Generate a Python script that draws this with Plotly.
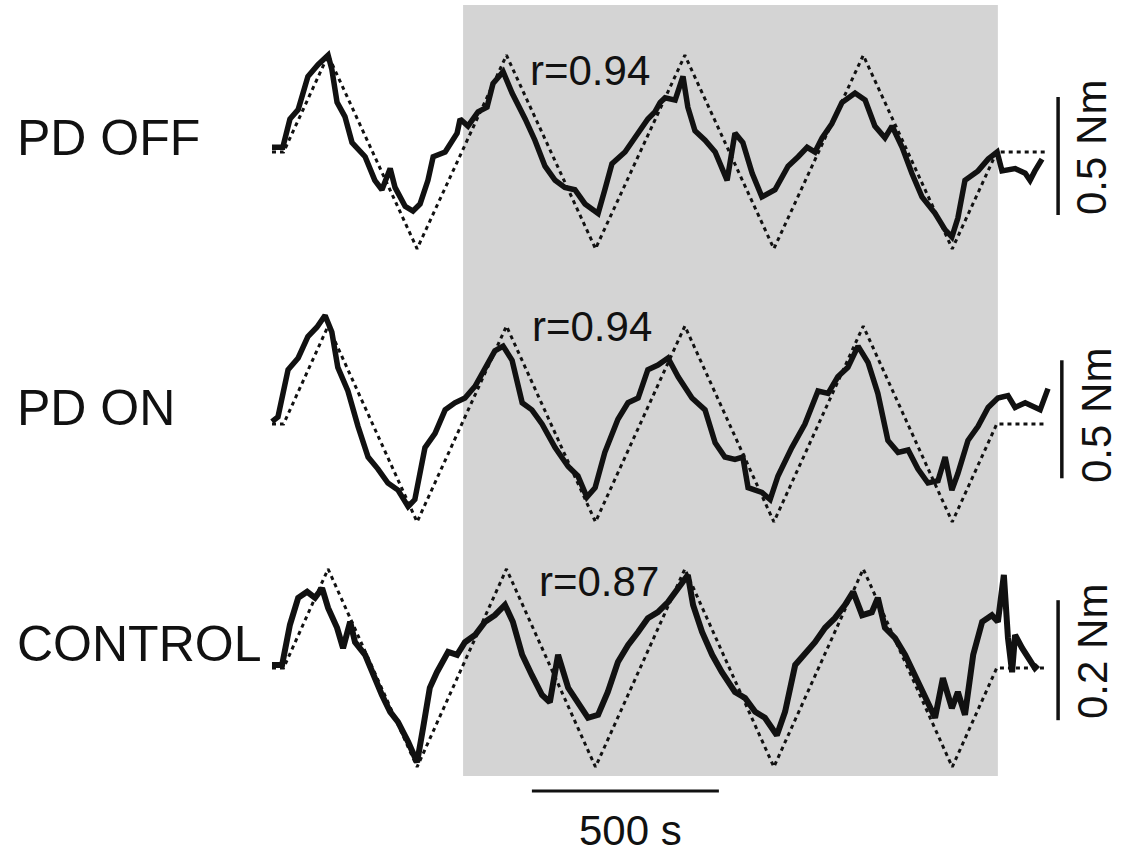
import plotly.graph_objects as go

# ---------------- data (time in s, torque in Nm) ----------------
tgt_t = [0, 31, 150, 388, 627, 865, 1104, 1342, 1581, 1819, 1938, 2072]
off_tgt = [0, 0, 0.41, -0.41, 0.41, -0.41, 0.41, -0.41, 0.41, -0.41, 0, 0]
on_tgt = [0, 0, 0.415, -0.415, 0.415, -0.415, 0.415, -0.415, 0.415, -0.415, 0, 0]
ctl_tgt = [0, 0, 0.165, -0.165, 0.165, -0.165, 0.165, -0.165, 0.165, -0.165, 0, 0]

off_t = [0, 29, 48, 70, 96, 123, 150, 160, 174, 195, 214, 249, 275, 294, 316, 329, 356, 377, 396, 417,
         431, 463, 495, 503, 524, 551, 575, 591, 618, 642, 677, 703, 730, 757, 783, 810, 837, 872, 890, 909,
         944, 971, 1005, 1024, 1038, 1051, 1078, 1099, 1112, 1131, 1158, 1185, 1217, 1238, 1259, 1284, 1310,
         1345, 1380, 1407, 1431, 1452, 1471, 1497, 1524, 1559, 1586, 1612, 1639, 1658, 1685, 1711, 1738,
         1773, 1800, 1818, 1834, 1853, 1888, 1915, 1939, 1952, 1987, 2014, 2027, 2040, 2059]
off_v = [0.02, 0.02, 0.14, 0.18, 0.32, 0.37, 0.41, 0.35, 0.21, 0.15, 0.04, -0.02, -0.12, -0.16, -0.07,
         -0.15, -0.23, -0.25, -0.22, -0.12, -0.02, 0.00, 0.08, 0.14, 0.11, 0.17, 0.19, 0.29, 0.34, 0.25,
         0.14, 0.05, -0.06, -0.12, -0.15, -0.16, -0.22, -0.26, -0.16, -0.05, 0.00, 0.06, 0.14, 0.17, 0.21,
         0.23, 0.22, 0.32, 0.19, 0.09, 0.05, 0.00, -0.12, 0.08, 0.04, -0.09, -0.19, -0.16, -0.06, -0.02,
         0.02, 0.00, 0.06, 0.12, 0.21, 0.25, 0.22, 0.11, 0.06, 0.11, 0.02, -0.09, -0.19, -0.26, -0.33,
         -0.36, -0.28, -0.12, -0.08, -0.03, 0.00, -0.08, -0.07, -0.09, -0.12, -0.08, -0.03]

on_t = [0, 16, 43, 70, 96, 120, 142, 160, 176, 203, 230, 257, 283, 310, 337, 364, 382, 409, 436, 463,
        489, 516, 543, 570, 596, 618, 642, 669, 695, 722, 757, 792, 818, 842, 864, 890, 925, 952, 979, 1005,
        1032, 1059, 1086, 1123, 1158, 1185, 1211, 1238, 1259, 1273, 1310, 1332, 1353, 1390, 1425, 1460,
        1487, 1513, 1540, 1567, 1594, 1620, 1647, 1674, 1701, 1727, 1754, 1781, 1800, 1818, 1834, 1861,
        1888, 1915, 1941, 1968, 1987, 2014, 2040, 2054, 2075]
on_v = [0.01, 0.03, 0.23, 0.28, 0.37, 0.41, 0.46, 0.39, 0.24, 0.14, -0.01, -0.14, -0.19, -0.25, -0.28,
        -0.35, -0.32, -0.10, -0.04, 0.06, 0.09, 0.11, 0.16, 0.24, 0.31, 0.33, 0.27, 0.09, 0.06, 0.00,
        -0.10, -0.18, -0.22, -0.31, -0.27, -0.12, 0.02, 0.09, 0.11, 0.23, 0.25, 0.28, 0.20, 0.11, 0.06,
        -0.08, -0.14, -0.15, -0.14, -0.27, -0.29, -0.32, -0.22, -0.10, 0.00, 0.14, 0.13, 0.20, 0.24, 0.33,
        0.26, 0.13, -0.07, -0.12, -0.11, -0.19, -0.25, -0.24, -0.14, -0.28, -0.21, -0.07, -0.01, 0.07,
        0.11, 0.12, 0.07, 0.09, 0.07, 0.06, 0.15]

ctl_t = [0, 27, 48, 70, 94, 115, 134, 150, 174, 190, 209, 222, 249, 267, 294, 316, 337, 364, 388, 404,
         422, 441, 471, 495, 516, 543, 570, 596, 623, 644, 669, 695, 722, 743, 765, 792, 818, 845, 872, 898,
         925, 952, 979, 1005, 1032, 1059, 1086, 1112, 1126, 1150, 1177, 1203, 1238, 1265, 1292, 1318, 1350,
         1372, 1399, 1425, 1452, 1479, 1505, 1532, 1554, 1578, 1604, 1620, 1639, 1666, 1693, 1719, 1746,
         1773, 1794, 1818, 1834, 1853, 1875, 1899, 1925, 1941, 1957, 1968, 1979, 1987, 2006, 2022, 2040, 2048]
ctl_v = [0.005, 0.005, 0.072, 0.117, 0.127, 0.117, 0.133, 0.100, 0.067, 0.033,
         0.077, 0.043, 0.022, -0.007, -0.045, -0.073, -0.090, -0.123, -0.157, -0.100,
         -0.033, -0.007, 0.027, 0.022, 0.043, 0.055, 0.077, 0.088, 0.105, 0.077,
         0.022, -0.012, -0.045, -0.057, 0.022, -0.033, -0.057, -0.083, -0.078, -0.040,
         0.010, 0.038, 0.060, 0.083, 0.093, 0.110, 0.133, 0.155, 0.105, 0.060,
         0.022, -0.007, -0.040, -0.050, -0.073, -0.083, -0.112, -0.073, 0.005, 0.022,
         0.043, 0.067, 0.083, 0.105, 0.127, 0.088, 0.093, 0.117, 0.067, 0.050,
         0.022, -0.012, -0.045, -0.083, -0.017, -0.067, -0.040, -0.078, 0.022, 0.077,
         0.088, 0.077, 0.155, 0.050, -0.007, 0.055, 0.033, 0.017, 0.000, 0.005]

panel_labels = ["PD OFF", "PD ON", "CONTROL"]
r_labels = ["r=0.94", "r=0.94", "r=0.87"]
scale_labels = ["0.5 Nm", "0.5 Nm", "0.2 Nm"]
time_scale_label = "500 s"

# scale bars (data units)
time_bar = [695, 1195]          # 500 s
off_bar = [0.233, -0.267]        # 0.5 Nm
on_bar = [0.27, -0.23]           # 0.5 Nm
ctl_bar = [0.113, -0.087]        # 0.2 Nm
shade_t = [511, 1941]            # shaded period

assert len(off_t) == len(off_v) and len(on_t) == len(on_v) and len(ctl_t) == len(ctl_v)

FONT = "Liberation Sans, Arial, Helvetica, sans-serif"
INK = "#111111"

fig = go.Figure()

def add_panel(tt, tv, st, sv, yax, w):
    fig.add_trace(go.Scatter(x=tt, y=tv, mode="lines", yaxis=yax,
                             line=dict(color=INK, width=3, dash="4px,4px"),
                             hoverinfo="skip", showlegend=False))
    fig.add_trace(go.Scatter(x=st, y=sv, mode="lines", yaxis=yax,
                             line=dict(color=INK, width=w),
                             hoverinfo="skip", showlegend=False))

add_panel(tgt_t, off_tgt, off_t, off_v, "y", 5.5)
add_panel(tgt_t, on_tgt, on_t, on_v, "y2", 5.5)
add_panel(tgt_t, ctl_tgt, ctl_t, ctl_v, "y3", 6)

# vertical scale bars
fig.add_trace(go.Scatter(x=[2102, 2102], y=off_bar, mode="lines", yaxis="y",
                         line=dict(color=INK, width=3.5), hoverinfo="skip", showlegend=False))
fig.add_trace(go.Scatter(x=[2112, 2112], y=on_bar, mode="lines", yaxis="y2",
                         line=dict(color=INK, width=3.5), hoverinfo="skip", showlegend=False))
fig.add_trace(go.Scatter(x=[2102, 2102], y=ctl_bar, mode="lines", yaxis="y3",
                         line=dict(color=INK, width=3.5), hoverinfo="skip", showlegend=False))
# horizontal time bar
fig.add_trace(go.Scatter(x=time_bar, y=[-0.205, -0.205], mode="lines", yaxis="y3",
                         line=dict(color=INK, width=3), hoverinfo="skip", showlegend=False))

# shaded region
fig.add_shape(type="rect", xref="x", yref="paper", x0=shade_t[0], x1=shade_t[1],
              y0=1 - 776 / 854, y1=1 - 5 / 854, fillcolor="#d4d4d4", line=dict(width=0), layer="below")

ann = []
label_y = [138, 408, 644]
for lab, py in zip(panel_labels, label_y):
    ann.append(dict(text=lab, x=15 / 1126, y=1 - py / 854, xref="paper", yref="paper",
                    xanchor="left", yanchor="middle", showarrow=False,
                    font=dict(family=FONT, size=50, color=INK)))
r_pos = [(590, 71), (592, 326), (599, 581)]
for lab, (px, py) in zip(r_labels, r_pos):
    ann.append(dict(text=lab, x=px / 1126, y=1 - py / 854, xref="paper", yref="paper",
                    xanchor="center", yanchor="middle", showarrow=False,
                    font=dict(family=FONT, size=42, color=INK)))
s_pos = [(1092, 148), (1096, 416), (1092, 652)]
for lab, (px, py) in zip(scale_labels, s_pos):
    ann.append(dict(text=lab, x=px / 1126, y=1 - py / 854, xref="paper", yref="paper",
                    xanchor="center", yanchor="middle", showarrow=False, textangle=-90,
                    font=dict(family=FONT, size=42, color=INK)))
ann.append(dict(text=time_scale_label, x=630 / 1126, y=1 - 830 / 854, xref="paper", yref="paper",
                xanchor="center", yanchor="middle", showarrow=False,
                font=dict(family=FONT, size=42, color=INK)))

hidden = dict(visible=False, showgrid=False, zeroline=False, fixedrange=True)
fig.update_layout(
    width=1126, height=854, autosize=False,
    margin=dict(l=0, r=0, t=0, b=0),
    paper_bgcolor="white", plot_bgcolor="white",
    showlegend=False, hovermode=False,
    xaxis=dict(range=[-727.3, 2283.6], **hidden),
    yaxis=dict(range=[-2.9746, 0.6441], domain=[0, 1], **hidden),
    yaxis2=dict(range=[-1.8220, 1.7966], domain=[0, 1], overlaying="y", **hidden),
    yaxis3=dict(range=[-0.31, 1.1133], domain=[0, 1], overlaying="y", **hidden),
    annotations=ann,
)

fig.write_html("out.html", config={"displayModeBar": False},
               post_script="document.body.style.margin='0';document.body.style.overflow='hidden';")
